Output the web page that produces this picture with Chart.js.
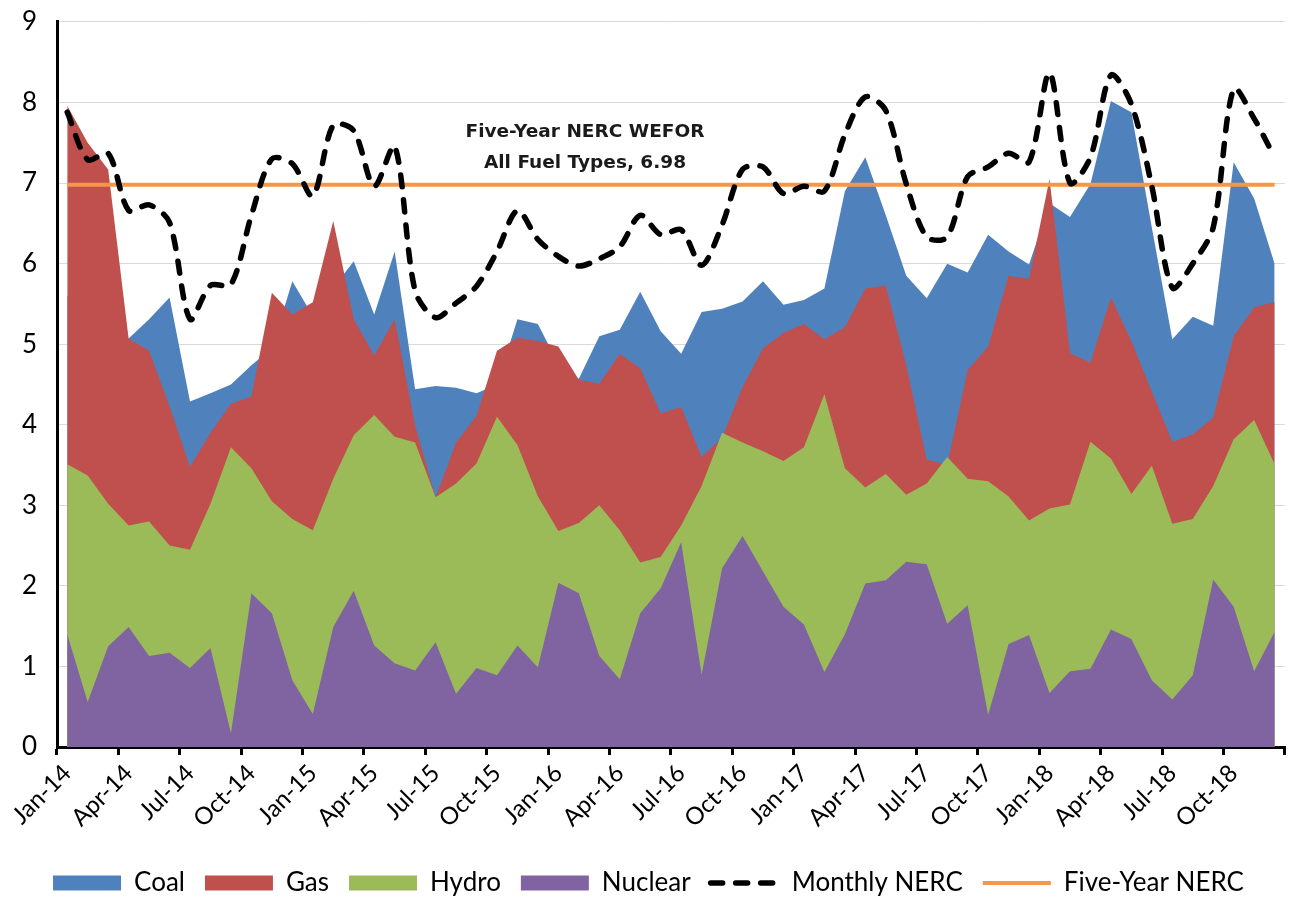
<!DOCTYPE html>
<html lang="en">
<head>
    <meta charset="UTF-8">
    <title>NERC WEFOR by fuel type</title>
    <script src="https://cdn.jsdelivr.net/npm/chart.js@4.4.0/dist/chart.umd.min.js"></script>
    <style>
        body { margin: 0; background: #fff; }
        #wrap { width: 1299px; height: 906px; }
    </style>
</head>
<body>
<div id="wrap"><canvas id="myCanvas"></canvas></div>
<script>
// months Jan-14 .. Dec-18
const years = ['14', '15', '16', '17', '18'];
const monthNames = ['Jan','Feb','Mar','Apr','May','Jun','Jul','Aug','Sep','Oct','Nov','Dec'];
const months = [];
years.forEach(y => monthNames.forEach(m => months.push(m + '-' + y)));

const coal = [5.6, 5.4, 5.2, 5.07, 5.31, 5.58, 4.29, 4.39, 4.5, 4.74, 4.95, 5.78,
              5.35, 5.7, 6.03, 5.37, 6.15, 4.44, 4.48, 4.46, 4.39, 4.5, 5.31, 5.25,
              4.75, 4.57, 5.1, 5.18, 5.65, 5.16, 4.88, 5.4, 5.44, 5.53, 5.78, 5.49,
              5.55, 5.69, 6.9, 7.32, 6.6, 5.85, 5.57, 6.0, 5.89, 6.36, 6.15, 5.99,
              6.75, 6.58, 6.99, 8.02, 7.88, 6.45, 5.06, 5.34, 5.23, 7.26, 6.81, 6.0];
const gas = [7.96, 7.5, 7.17, 5.07, 4.92, 4.23, 3.48, 3.9, 4.26, 4.35, 5.64, 5.37,
             5.52, 6.53, 5.31, 4.86, 5.31, 3.99, 3.1, 3.78, 4.11, 4.92, 5.08, 5.04,
             4.97, 4.56, 4.51, 4.88, 4.7, 4.14, 4.22, 3.6, 3.84, 4.47, 4.95, 5.14,
             5.25, 5.06, 5.21, 5.69, 5.73, 4.74, 3.57, 3.5, 4.68, 4.97, 5.85, 5.81,
             7.05, 4.89, 4.77, 5.58, 5.04, 4.41, 3.79, 3.88, 4.09, 5.1, 5.46, 5.52];
const hydro = [3.51, 3.37, 3.02, 2.75, 2.8, 2.5, 2.45, 3.02, 3.72, 3.46, 3.05, 2.83,
               2.69, 3.33, 3.87, 4.12, 3.85, 3.78, 3.1, 3.27, 3.52, 4.1, 3.75, 3.11,
               2.68, 2.78, 3.0, 2.69, 2.29, 2.36, 2.75, 3.24, 3.9, 3.78, 3.67, 3.55,
               3.72, 4.38, 3.46, 3.22, 3.39, 3.13, 3.27, 3.6, 3.33, 3.3, 3.11, 2.81,
               2.96, 3.01, 3.79, 3.58, 3.14, 3.49, 2.77, 2.83, 3.24, 3.82, 4.06, 3.51];
const nuclear = [1.4, 0.56, 1.25, 1.49, 1.13, 1.17, 0.98, 1.23, 0.17, 1.91, 1.66, 0.83,
                 0.41, 1.49, 1.94, 1.26, 1.04, 0.95, 1.3, 0.66, 0.98, 0.89, 1.26, 0.99,
                 2.04, 1.91, 1.13, 0.84, 1.66, 1.97, 2.54, 0.9, 2.22, 2.62, 2.18, 1.74,
                 1.52, 0.93, 1.4, 2.03, 2.07, 2.3, 2.27, 1.53, 1.76, 0.4, 1.28, 1.39,
                 0.67, 0.94, 0.97, 1.46, 1.34, 0.83, 0.59, 0.89, 2.08, 1.74, 0.94, 1.43];
const monthlyNerc = [7.88, 7.29, 7.37, 6.66, 6.73, 6.51, 5.31, 5.73, 5.74, 6.6, 7.3, 7.24,
                     6.84, 7.72, 7.65, 6.96, 7.46, 5.66, 5.33, 5.51, 5.72, 6.15, 6.66, 6.3,
                     6.09, 5.97, 6.06, 6.21, 6.6, 6.36, 6.42, 5.98, 6.48, 7.17, 7.2, 6.87,
                     6.96, 6.9, 7.6, 8.07, 7.9, 6.99, 6.33, 6.33, 7.08, 7.2, 7.37, 7.26,
                     8.37, 7.0, 7.32, 8.34, 7.98, 6.96, 5.7, 6.0, 6.45, 8.17, 7.8, 7.32];
const fiveYearNerc = 6.98;
const noteLines = ['Five-Year NERC WEFOR', 'All Fuel Types, ' + fiveYearNerc];

function area(label, data, color, order) {
    return {
        label: label, data: data, backgroundColor: color, borderColor: color,
        borderWidth: 0, fill: 'origin', pointRadius: 0, pointStyle: 'rect', order: order
    };
}

const noteLabel = {
    id: 'noteLabel',
    afterDatasetsDraw(chart) {
        const ctx = chart.ctx, x = chart.scales.x, y = chart.scales.y;
        const px = x.getPixelForValue(25) + 0.3 * (x.getPixelForValue(26) - x.getPixelForValue(25));
        ctx.save();
        ctx.font = 'bold 18.5px "DejaVu Sans"';
        ctx.fillStyle = '#1a1a1a';
        ctx.textAlign = 'center';
        ctx.textBaseline = 'middle';
        ctx.fillText(noteLines[0], px, y.getPixelForValue(7.63));
        ctx.fillText(noteLines[1], px, y.getPixelForValue(7.25));
        ctx.restore();
    }
};

// legend items: take the line dash / width from the dataset, not the point
function legendItems(chart) {
    const items = Chart.defaults.plugins.legend.labels.generateLabels(chart);
    items.forEach(it => {
        const ds = chart.data.datasets[it.datasetIndex];
        if (ds.pointStyle === 'line') {
            it.lineDash = ds.borderDash || [];
            it.lineWidth = ds.borderWidth;
            it.lineCap = ds.borderCapStyle || 'butt';
            it.strokeStyle = ds.borderColor;
        } else {
            it.lineWidth = 0;
        }
    });
    return items;
}

new Chart(document.getElementById('myCanvas'), {
    type: 'line',
    data: {
        labels: months,
        datasets: [
            area('Coal', coal, '#4F81BD', 4),
            area('Gas', gas, '#C0504D', 3),
            area('Hydro', hydro, '#9BBB59', 2),
            area('Nuclear', nuclear, '#8064A2', 1),
            {
                label: 'Monthly NERC', data: monthlyNerc, borderColor: '#000', backgroundColor: '#000',
                borderWidth: 5.5, borderDash: [12, 13], borderCapStyle: 'round', tension: 0.3,
                fill: false, pointRadius: 0, pointStyle: 'line', order: -1
            },
            {
                label: 'Five-Year NERC', data: months.map(() => fiveYearNerc),
                borderColor: '#F79646', backgroundColor: '#F79646', borderWidth: 4,
                fill: false, pointRadius: 0, pointStyle: 'line', order: 0
            }
        ]
    },
    plugins: [noteLabel],
    options: {
        responsive: true,
        maintainAspectRatio: false,
        animation: false,
        layout: { padding: { top: 9, right: 2, left: 0, bottom: 0 } },
        plugins: {
            tooltip: { enabled: false },
            legend: {
                position: 'bottom',
                maxHeight: 58,
                labels: {
                    usePointStyle: true, pointStyleWidth: 68, boxHeight: 15,
                    padding: 20, color: '#000',
                    font: { family: 'Lato', size: 26 },
                    generateLabels: legendItems,
                    sort: (a, b) => a.datasetIndex - b.datasetIndex
                }
            }
        },
        scales: {
            x: {
                offset: true,
                afterFit: s => { s.height = 103; },
                grid: {
                    offset: true, drawOnChartArea: false, tickLength: 8, lineWidth: 3,
                    color: c => (c.index === undefined || c.index % 3 === 0) ? '#000' : 'rgba(0,0,0,0)'
                },
                border: { color: '#000', width: 3 },
                ticks: {
                    autoSkip: false, minRotation: 45, maxRotation: 45, padding: 4,
                    color: '#000', font: { family: 'Lato', size: 24 },
                    callback: function (v, i) { return i % 3 === 0 ? months[i] : ''; }
                }
            },
            y: {
                min: 0, max: 9,
                afterFit: s => { s.width = 57; },
                grid: { color: '#D9D9D9', lineWidth: 1, drawTicks: false },
                border: { color: '#000', width: 3 },
                ticks: { stepSize: 1, padding: 20, color: '#000', font: { family: 'Lato', size: 26, lineHeight: 0.15 } }
            }
        }
    }
});
</script>
</body>
</html>
